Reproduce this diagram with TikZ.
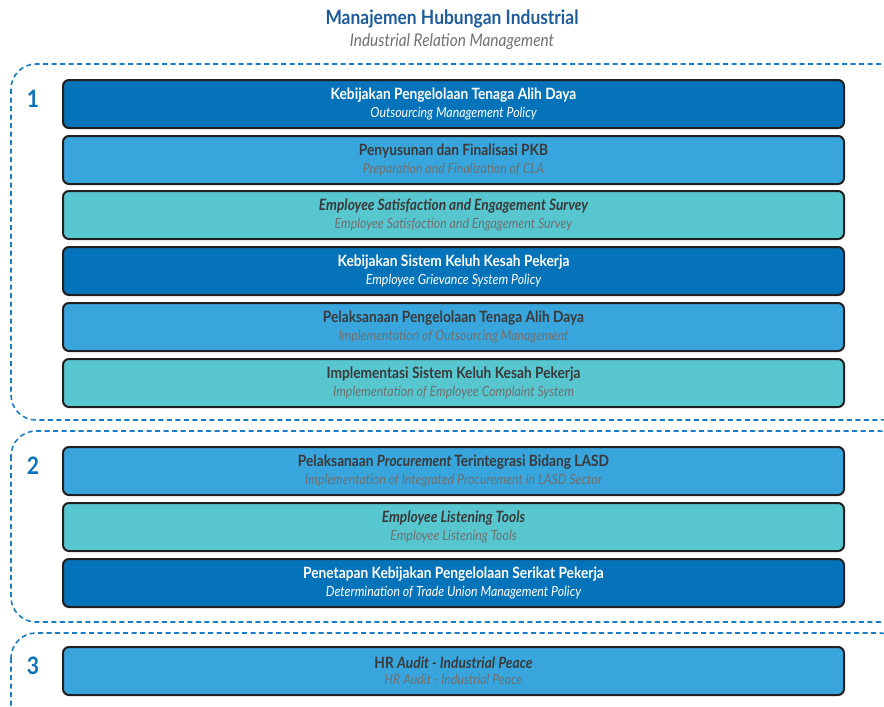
\documentclass[tikz,border=0pt]{standalone}
\usepackage{fontspec}
\setmainfont{Lato}[FakeStretch=0.88]
\begin{document}
\definecolor{dblue}{HTML}{0573BA}
\definecolor{mblue}{HTML}{38A5DD}
\definecolor{teal}{HTML}{58C6CF}
\definecolor{edge}{HTML}{231F20}
\definecolor{dash}{HTML}{1A7CC4}
\definecolor{ttl}{HTML}{1E5C9B}
\definecolor{num}{HTML}{0A72B8}
\definecolor{gtxt}{HTML}{3A3A3A}
\definecolor{gsub}{HTML}{707070}
\newcommand{\bl}{\fontsize{15.6}{19}\selectfont\bfseries}
\newcommand{\il}{\fontsize{14}{19}\selectfont\mdseries\itshape}
\begin{tikzpicture}[x=1pt,y=-1pt,
  box/.style={draw=edge,line width=2pt,rounded corners=6pt,anchor=north west,
    minimum width=781pt,minimum height=48pt,inner sep=0pt,align=center},
  bdark/.style={box,fill=dblue,text=white},
  bmid/.style={box,fill=mblue,text=gtxt},
  bteal/.style={box,fill=teal,text=gtxt},
  grp/.style={draw=dash,line width=1.6pt,dash pattern=on 5pt off 3.5pt,rounded corners=25pt},
  numlbl/.style={text=num,font=\fontsize{24}{24}\selectfont\bfseries}]
\useasboundingbox (0,0) rectangle (884,707);
\clip (0,0) rectangle (884,707);
\node (t1) at (452,19) {\fontsize{19.8}{22}\selectfont\bfseries\color{ttl}Manajemen Hubungan Industrial};
\node (t2) at (452,42) {\fontsize{17.5}{20}\selectfont\itshape\color{gsub}Industrial Relation Management};
\draw[grp] (11,64) rectangle (905,420);
\draw[grp] (11,431) rectangle (905,622);
\draw[grp] (11,633) rectangle (905,740);
\node[numlbl] (n1) at (33,99) {1};
\node[numlbl] (n2) at (33,466) {2};
\node[numlbl] (n3) at (33,666) {3};
\node[bdark] (b1) at (62,79) {\bl Kebijakan Pengelolaan Tenaga Alih Daya\\[4pt] \il Outsourcing Management Policy};
\node[bmid] (b2) at (62,135) {\bl Penyusunan dan Finalisasi PKB\\[4pt] \il\color{gsub}Preparation and Finalization of CLA};
\node[bteal] (b3) at (62,190) {\bl\itshape Employee Satisfaction and Engagement Survey\\[4pt] \il\color{gsub}Employee Satisfaction and Engagement Survey};
\node[bdark] (b4) at (62,246) {\bl Kebijakan Sistem Keluh Kesah Pekerja\\[4pt] \il Employee Grievance System Policy};
\node[bmid] (b5) at (62,302) {\bl Pelaksanaan Pengelolaan Tenaga Alih Daya\\[4pt] \il\color{gsub}Implementation of Outsourcing Management};
\node[bteal] (b6) at (62,358) {\bl Implementasi Sistem Keluh Kesah Pekerja\\[4pt] \il\color{gsub}Implementation of Employee Complaint System};
\node[bmid] (b7) at (62,446) {\bl Pelaksanaan \textit{Procurement}\,Terintegrasi Bidang LASD\\[4pt] \il\color{gsub}Implementation of Integrated Procurement in LASD Sector};
\node[bteal] (b8) at (62,502) {\bl\itshape Employee Listening Tools\\[4pt] \il\color{gsub}Employee Listening Tools};
\node[bdark] (b9) at (62,558) {\bl Penetapan Kebijakan Pengelolaan Serikat Pekerja\\[4pt] \il Determination of Trade Union Management Policy};
\node[bmid] (b10) at (62,646) {\bl HR \textit{Audit - Industrial Peace}\\[4pt] \il\color{gsub}HR Audit - Industrial Peace};
\end{tikzpicture}
\end{document}
